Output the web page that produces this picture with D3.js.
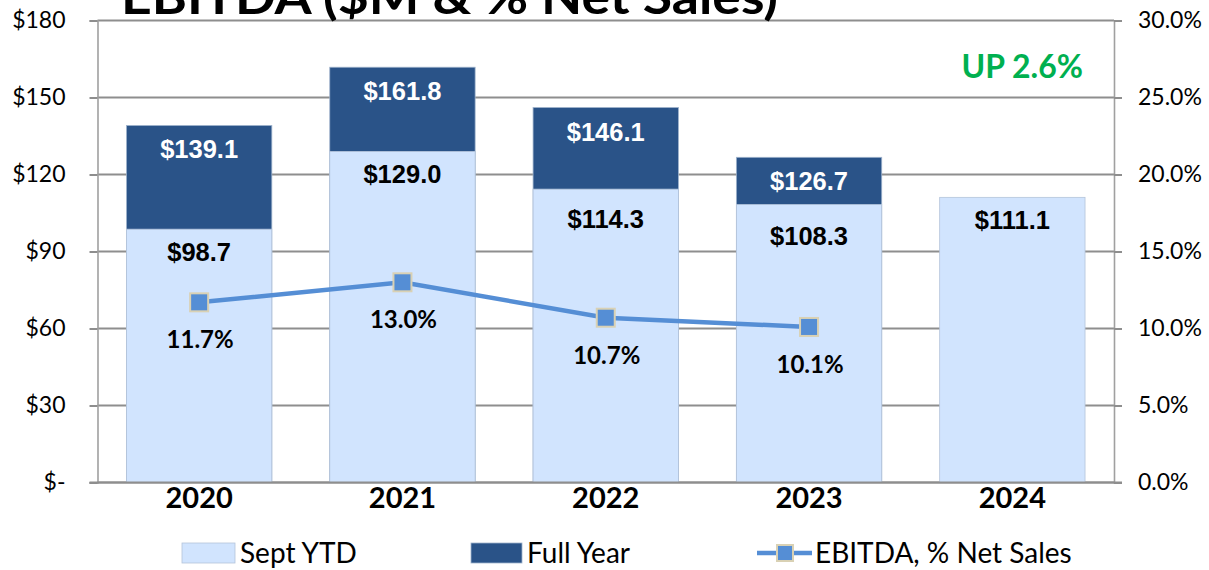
<!DOCTYPE html>
<html>
<head>
<meta charset="utf-8">
<script src="https://cdn.jsdelivr.net/npm/d3@7"></script>
<style>
  body { margin: 0; background: #fff; }
  svg { display: block; }
</style>
</head>
<body>
<div id="main"></div>
<script>
// chart values
const years = ['2020', '2021', '2022', '2023', '2024'];
const septYtd = [98.7, 129.0, 114.3, 108.3, 111.1];
const fullYear = [139.1, 161.8, 146.1, 126.7, null];
const ebitdaPct = [0.117, 0.130, 0.107, 0.101, null];
const leftTicks = [0, 30, 60, 90, 120, 150, 180];
const rightTicks = [0, 0.05, 0.10, 0.15, 0.20, 0.25, 0.30];
const titleText = 'EBITDA ($M & % Net Sales)';
const noteText = 'UP 2.6%';
const legendNames = ['Sept YTD', 'Full Year', 'EBITDA, % Net Sales'];

// small label nudges (px), Excel placed a couple of labels lower
const ytdLabelNudge = [0, 0, 7, 8, 0];

function main() {
  const W = 1209, H = 570;
  const plot = { left: 97.5, right: 1114, top: 20.5, bottom: 482.5 };
  const lightBlue = '#D1E4FE';
  const darkBlue = '#2A5388';
  const lineBlue = '#558ED5';
  const gridGrey = '#8E8E8E';
  const calibri = 'Lato, "Open Sans", sans-serif';
  const arial = '"Liberation Sans", Arial, sans-serif';

  const svg = d3.select('#main').append('svg')
    .attr('width', W)
    .attr('height', H);

  const x = d3.scaleBand()
    .domain(years)
    .range([plot.left, plot.right])
    .paddingInner(0.285)
    .paddingOuter(0.1425);
  const y = d3.scaleLinear().domain([0, 180]).range([plot.bottom, plot.top]);
  const y2 = d3.scaleLinear().domain([0, 0.30]).range([plot.bottom, plot.top]);
  const cx = d => x(d) + x.bandwidth() / 2;

  // gridlines (under the bars)
  svg.append('g')
    .selectAll('line')
    .data(leftTicks)
    .enter()
    .append('line')
    .attr('x1', plot.left)
    .attr('x2', plot.right)
    .attr('y1', d => y(d))
    .attr('y2', d => y(d))
    .attr('stroke', gridGrey)
    .attr('stroke-width', 2);

  // title, clipped at the top like the slide
  svg.append('text')
    .attr('x', 121)
    .attr('y', 14)
    .attr('textLength', 657)
    .attr('lengthAdjust', 'spacingAndGlyphs')
    .style('font-family', calibri)
    .style('font-weight', 700)
    .style('font-size', '48px')
    .attr('fill', '#000')
    .text(titleText);

  // full year bars behind, sept ytd bars in front
  const bars = svg.append('g');
  bars.selectAll('rect.full')
    .data(years.filter((d, i) => fullYear[i] != null))
    .enter()
    .append('rect')
    .attr('class', 'full')
    .attr('x', d => x(d))
    .attr('width', x.bandwidth())
    .attr('y', d => y(fullYear[years.indexOf(d)]))
    .attr('height', d => plot.bottom - y(fullYear[years.indexOf(d)]))
    .attr('fill', darkBlue)
    .attr('stroke', '#9FB3CC')
    .attr('stroke-width', 0.8);
  bars.selectAll('rect.ytd')
    .data(years)
    .enter()
    .append('rect')
    .attr('class', 'ytd')
    .attr('x', d => x(d))
    .attr('width', x.bandwidth())
    .attr('y', (d, i) => y(septYtd[i]))
    .attr('height', (d, i) => plot.bottom - y(septYtd[i]))
    .attr('fill', lightBlue)
    .attr('stroke', '#B4C4DA')
    .attr('stroke-width', 0.8);

  // axes
  const leftAxis = svg.append('g')
    .attr('transform', `translate(${plot.left},0)`)
    .call(d3.axisLeft(y)
      .tickValues(leftTicks)
      .tickSize(8)
      .tickPadding(24)
      .tickFormat(d => (d === 0 ? '$-' : `$${d}`)));
  const rightAxis = svg.append('g')
    .attr('transform', `translate(${plot.right},0)`)
    .call(d3.axisRight(y2)
      .tickValues(rightTicks)
      .tickSize(8)
      .tickPadding(16)
      .tickFormat(d3.format('.1%')));
  [leftAxis, rightAxis].forEach((g) => {
    g.select('.domain')
      .attr('stroke', '#A0A0A0')
      .attr('stroke-width', 1.6);
    g.selectAll('.tick line')
      .attr('stroke', gridGrey)
      .attr('stroke-width', 2);
    g.selectAll('.tick text')
      .attr('fill', '#000')
      .style('font-family', calibri)
      .style('font-size', '23px');
  });

  // baseline across the plot
  svg.append('line')
    .attr('x1', plot.left - 8)
    .attr('x2', plot.right + 8)
    .attr('y1', plot.bottom)
    .attr('y2', plot.bottom)
    .attr('stroke', gridGrey)
    .attr('stroke-width', 2);

  // category labels
  const bottomAxis = svg.append('g')
    .attr('transform', `translate(0,${plot.bottom})`)
    .call(d3.axisBottom(x).tickSize(0).tickPadding(0));
  bottomAxis.select('.domain').remove();
  bottomAxis.selectAll('.tick text')
    .attr('y', 25)
    .attr('dy', 0)
    .attr('fill', '#000')
    .style('font-family', calibri)
    .style('font-weight', 700)
    .style('font-size', '29px');

  // value labels
  const labels = svg.append('g')
    .style('font-family', arial)
    .style('font-weight', 700)
    .style('font-size', '25.5px')
    .attr('text-anchor', 'middle');
  labels.selectAll('text.full')
    .data(years.filter((d, i) => fullYear[i] != null))
    .enter()
    .append('text')
    .attr('x', d => cx(d))
    .attr('y', d => y(fullYear[years.indexOf(d)]) + 33)
    .attr('fill', '#fff')
    .text(d => `$${fullYear[years.indexOf(d)].toFixed(1)}`);
  labels.selectAll('text.ytd')
    .data(years)
    .enter()
    .append('text')
    .attr('x', d => cx(d))
    .attr('y', (d, i) => y(septYtd[i]) + 32 + ytdLabelNudge[i])
    .attr('fill', '#000')
    .text((d, i) => `$${septYtd[i].toFixed(1)}`);

  // ebitda % line
  const pts = years
    .map((d, i) => ({ year: d, v: ebitdaPct[i] }))
    .filter(p => p.v != null);
  const line = d3.line()
    .x(p => cx(p.year))
    .y(p => y2(p.v));
  svg.append('path')
    .datum(pts)
    .attr('d', line)
    .attr('fill', 'none')
    .attr('stroke', lineBlue)
    .attr('stroke-width', 4.5);
  svg.append('g')
    .selectAll('rect')
    .data(pts)
    .enter()
    .append('rect')
    .attr('x', p => cx(p.year) - 9)
    .attr('y', p => y2(p.v) - 9)
    .attr('width', 18)
    .attr('height', 18)
    .attr('fill', lineBlue)
    .attr('stroke', '#D9D1B4')
    .attr('stroke-width', 2);
  svg.append('g')
    .selectAll('text')
    .data(pts)
    .enter()
    .append('text')
    .attr('x', p => cx(p.year) + 1)
    .attr('y', p => y2(p.v) + 46)
    .attr('text-anchor', 'middle')
    .attr('fill', '#000')
    .style('font-family', calibri)
    .style('font-weight', 700)
    .style('font-size', '24px')
    .text(p => d3.format('.1%')(p.v));

  // note
  svg.append('text')
    .attr('x', 1083)
    .attr('y', 78)
    .attr('text-anchor', 'end')
    .attr('fill', '#00B050')
    .style('font-family', calibri)
    .style('font-weight', 700)
    .style('font-size', '32px')
    .text(noteText);

  // legend
  const legend = svg.append('g')
    .style('font-family', calibri)
    .style('font-size', '28px')
    .attr('fill', '#000');
  const legY = 553;
  legend.append('rect')
    .attr('x', 182).attr('y', legY - 10).attr('width', 53).attr('height', 20)
    .attr('fill', lightBlue).attr('stroke', '#B4C4DA').attr('stroke-width', 0.8);
  legend.append('text').attr('x', 240).attr('y', legY + 10).text(legendNames[0]);
  legend.append('rect')
    .attr('x', 471).attr('y', legY - 10).attr('width', 51).attr('height', 20)
    .attr('fill', darkBlue).attr('stroke', '#9FB3CC').attr('stroke-width', 0.8);
  legend.append('text').attr('x', 527).attr('y', legY + 10).text(legendNames[1]);
  legend.append('line')
    .attr('x1', 757).attr('x2', 812).attr('y1', legY).attr('y2', legY)
    .attr('stroke', lineBlue).attr('stroke-width', 4.5);
  legend.append('rect')
    .attr('x', 777).attr('y', legY - 8).attr('width', 16).attr('height', 16)
    .attr('fill', lineBlue).attr('stroke', '#D9D1B4').attr('stroke-width', 2);
  legend.append('text').attr('x', 815).attr('y', legY + 10).text(legendNames[2]);
}

document.addEventListener('DOMContentLoaded', main);
</script>
</body>
</html>
